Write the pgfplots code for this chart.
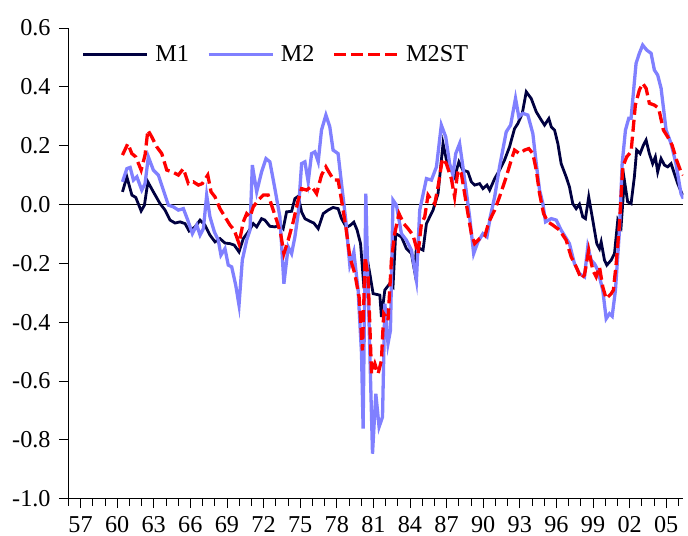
\documentclass[border=0pt]{standalone}
\usepackage{fontspec}
\setmainfont{Liberation Serif}
\usepackage{pgfplots}
\pgfplotsset{compat=1.18}
\definecolor{mone}{RGB}{0,0,64}
\definecolor{mtwo}{RGB}{128,128,255}
\definecolor{mst}{RGB}{255,0,0}
\newcommand{\bigf}{\fontsize{24.3}{28}\selectfont}
\begin{document}
\bigf
\begin{tikzpicture}
\begin{axis}[name=ax, scale only axis, width=615bp, height=470.7bp,
 xmin=1956, xmax=2006.4, ymin=-1, ymax=0.6,
 axis lines=left, axis line style={-, line width=0.8bp, black},
 xtick={1957,1960,1963,1966,1969,1972,1975,1978,1981,1984,1987,1990,1993,1996,1999,2002,2005},
 xticklabels={57,60,63,66,69,72,75,78,81,84,87,90,93,96,99,02,05},
 minor xtick={1956,1957,...,2006},
 ytick={-1,-0.8,-0.6,-0.4,-0.2,0,0.2,0.4,0.6},
 yticklabels={-1.0,-0.8,-0.6,-0.4,-0.2,0.0,0.2,0.4,0.6},
 tick align=outside, major tick length=9.5bp, minor tick length=7bp,
 tick style={black, line width=0.8bp},
 every tick label/.append style={font=\bigf},
 xticklabel style={inner sep=1bp, yshift=-7bp},
 legend columns=3,
 legend image code/.code={\draw[#1] (0bp,0bp) -- (64bp,0bp);},
 legend style={draw=none, fill=none, font=\bigf, at={(0.022,0.943)}, anchor=west, inner sep=0pt,
   nodes={inner sep=4bp},
   /tikz/every odd column/.append style={column sep=2.5bp},
   /tikz/every even column/.append style={column sep=14bp}},
]
\addplot[black, line width=0.8bp, forget plot] coordinates {(1956,0) (2006.4,0)};
\addplot[mone, line width=2.8bp] coordinates {
(1960.44,0.043)(1960.80,0.094)(1961.21,0.032)(1961.53,0.024)(1961.97,-0.022)(1962.24,-0.002)(1962.52,0.077)(1962.97,0.043)(1963.52,0.003)(1963.93,-0.019)(1964.34,-0.053)(1964.75,-0.063)(1965.16,-0.059)(1965.57,-0.065)(1965.90,-0.090)(1966.39,-0.076)(1966.80,-0.053)(1967.20,-0.070)(1967.61,-0.104)(1968.02,-0.127)(1968.43,-0.116)(1968.84,-0.131)(1969.25,-0.133)(1969.60,-0.138)(1969.99,-0.161)(1970.34,-0.116)(1970.75,-0.093)(1971.16,-0.065)(1971.44,-0.076)(1971.84,-0.048)(1972.11,-0.053)(1972.52,-0.074)(1972.93,-0.076)(1973.34,-0.070)(1973.61,-0.082)(1973.89,-0.025)(1974.30,-0.023)(1974.57,0.020)(1974.84,0.028)(1975.12,-0.025)(1975.39,-0.048)(1975.80,-0.057)(1976.12,-0.063)(1976.48,-0.082)(1976.89,-0.031)(1977.29,-0.019)(1977.70,-0.010)(1978.11,-0.014)(1978.39,-0.048)(1978.80,-0.078)(1979.13,-0.070)(1979.40,-0.060)(1979.67,-0.087)(1979.95,-0.133)(1980.16,-0.246)(1980.44,-0.172)(1980.71,-0.235)(1980.98,-0.303)(1981.53,-0.308)(1981.66,-0.382)(1981.94,-0.291)(1982.34,-0.269)(1982.61,-0.280)(1982.83,-0.099)(1983.30,-0.110)(1983.71,-0.150)(1984.12,-0.167)(1984.39,-0.229)(1984.53,-0.144)(1985.07,-0.155)(1985.35,-0.065)(1985.89,-0.019)(1986.30,0.037)(1986.71,0.207)(1987.11,0.128)(1987.39,0.117)(1987.66,0.094)(1988.01,0.145)(1988.34,0.117)(1988.75,0.111)(1989.03,0.077)(1989.30,0.066)(1989.71,0.071)(1989.98,0.054)(1990.31,0.066)(1990.53,0.049)(1990.94,0.088)(1991.34,0.117)(1991.75,0.151)(1992.16,0.196)(1992.57,0.258)(1992.84,0.275)(1993.20,0.309)(1993.53,0.383)(1993.94,0.360)(1994.35,0.315)(1994.76,0.287)(1995.03,0.270)(1995.38,0.292)(1995.58,0.264)(1995.85,0.253)(1996.12,0.207)(1996.39,0.139)(1996.80,0.094)(1997.07,0.060)(1997.34,0.003)(1997.62,-0.014)(1997.89,0.001)(1998.16,-0.042)(1998.38,-0.048)(1998.65,0.026)(1998.98,-0.053)(1999.31,-0.133)(1999.53,-0.150)(1999.67,-0.127)(1999.94,-0.189)(2000.13,-0.206)(2000.49,-0.189)(2000.76,-0.167)(2001.03,-0.053)(2001.30,-0.076)(2001.57,0.083)(2001.84,0.009)(2002.12,0.003)(2002.39,0.094)(2002.58,0.185)(2002.86,0.173)(2003.13,0.202)(2003.35,0.219)(2003.62,0.173)(2003.89,0.139)(2004.11,0.162)(2004.30,0.111)(2004.58,0.156)(2004.85,0.134)(2005.12,0.128)(2005.40,0.139)(2005.67,0.105)(2005.94,0.071)(2006.34,0.032)
};
\addlegendentry{M1}
\addplot[mtwo, line width=3.3bp] coordinates {
(1960.44,0.077)(1960.80,0.122)(1961.07,0.126)(1961.34,0.083)(1961.62,0.094)(1962.02,0.049)(1962.29,0.071)(1962.56,0.162)(1962.97,0.117)(1963.38,0.100)(1963.79,0.049)(1964.20,-0.002)(1964.61,-0.008)(1965.02,-0.019)(1965.43,-0.014)(1965.79,-0.053)(1966.17,-0.099)(1966.53,-0.070)(1966.80,-0.104)(1967.07,-0.082)(1967.34,0.032)(1967.61,-0.042)(1967.97,-0.093)(1968.29,-0.121)(1968.51,-0.172)(1968.84,-0.150)(1969.11,-0.206)(1969.39,-0.212)(1969.72,-0.274)(1969.99,-0.342)(1970.26,-0.189)(1970.62,-0.121)(1970.89,-0.087)(1971.08,0.134)(1971.44,0.043)(1971.84,0.111)(1972.20,0.156)(1972.52,0.145)(1972.93,0.054)(1973.34,-0.042)(1973.67,-0.269)(1974.02,-0.144)(1974.30,-0.167)(1974.57,-0.110)(1974.84,-0.031)(1975.12,0.139)(1975.39,0.145)(1975.66,0.077)(1975.94,0.173)(1976.21,0.179)(1976.48,0.145)(1976.75,0.253)(1977.11,0.304)(1977.43,0.264)(1977.70,0.185)(1978.11,0.173)(1978.39,0.071)(1978.74,-0.053)(1979.07,-0.206)(1979.40,-0.161)(1979.75,-0.291)(1980.03,-0.507)(1980.16,-0.762)(1980.38,0.037)(1980.57,-0.280)(1980.93,-0.847)(1981.20,-0.643)(1981.47,-0.756)(1981.75,-0.722)(1981.94,-0.337)(1982.20,-0.473)(1982.40,-0.428)(1982.61,0.015)(1982.89,-0.002)(1983.30,-0.099)(1983.71,-0.121)(1984.12,-0.155)(1984.53,-0.257)(1984.80,-0.019)(1985.35,0.088)(1985.76,0.083)(1986.17,0.128)(1986.57,0.270)(1986.93,0.230)(1987.25,0.139)(1987.52,0.100)(1987.75,0.173)(1988.07,0.207)(1988.34,0.128)(1988.62,0.043)(1988.89,-0.042)(1989.22,-0.167)(1989.57,-0.127)(1989.98,-0.099)(1990.31,-0.110)(1990.58,-0.042)(1990.94,0.026)(1991.34,0.128)(1991.89,0.247)(1992.25,0.270)(1992.65,0.361)(1992.92,0.298)(1993.25,0.310)(1993.66,0.304)(1994.07,0.241)(1994.35,0.139)(1994.62,0.049)(1994.89,0.003)(1995.11,-0.059)(1995.58,-0.048)(1995.99,-0.053)(1996.39,-0.087)(1997.07,-0.133)(1997.48,-0.201)(1997.89,-0.235)(1998.30,-0.246)(1998.57,-0.144)(1998.85,-0.189)(1999.12,-0.201)(1999.39,-0.223)(1999.80,-0.291)(2000.08,-0.388)(2000.35,-0.371)(2000.57,-0.380)(2000.84,-0.291)(2001.17,-0.087)(2001.39,0.139)(2001.66,0.253)(2001.93,0.293)(2002.12,0.293)(2002.53,0.480)(2002.80,0.514)(2003.07,0.542)(2003.40,0.525)(2003.76,0.514)(2004.03,0.457)(2004.30,0.440)(2004.58,0.395)(2004.99,0.253)(2005.40,0.207)(2005.80,0.139)(2006.21,0.037)(2006.40,0.020)
};
\addlegendentry{M2}
\addplot[mst, line width=3.3bp, dash pattern=on 12bp off 5bp] coordinates {
(1960.44,0.168)(1960.88,0.207)(1961.21,0.173)(1961.53,0.162)(1961.97,0.117)(1962.29,0.168)(1962.52,0.253)(1962.84,0.230)(1963.25,0.196)(1963.66,0.173)(1964.07,0.117)(1964.53,0.111)(1965.02,0.100)(1965.43,0.122)(1965.84,0.071)(1966.25,0.077)(1966.66,0.066)(1966.98,0.071)(1967.43,0.100)(1967.70,0.043)(1968.02,0.026)(1968.43,-0.014)(1968.84,-0.042)(1969.25,-0.070)(1969.60,-0.087)(1969.99,-0.133)(1970.34,-0.059)(1970.62,-0.031)(1970.89,-0.042)(1971.16,-0.008)(1971.57,0.015)(1971.98,0.032)(1972.38,0.032)(1972.66,-0.002)(1973.07,-0.053)(1973.40,-0.099)(1973.67,-0.167)(1974.02,-0.121)(1974.43,-0.059)(1974.84,0.015)(1975.12,0.054)(1975.53,0.049)(1975.94,0.062)(1976.35,0.037)(1976.75,0.100)(1977.11,0.128)(1977.43,0.105)(1977.76,0.083)(1978.11,0.083)(1978.39,0.015)(1978.74,-0.076)(1979.07,-0.178)(1979.48,-0.235)(1979.83,-0.314)(1980.11,-0.496)(1980.32,-0.178)(1980.57,-0.246)(1980.85,-0.575)(1981.12,-0.541)(1981.39,-0.575)(1981.66,-0.530)(1981.85,-0.371)(1982.20,-0.394)(1982.48,-0.189)(1982.75,-0.099)(1983.10,-0.031)(1983.49,-0.065)(1983.84,-0.082)(1984.25,-0.104)(1984.66,-0.167)(1984.94,-0.065)(1985.21,-0.042)(1985.48,0.032)(1985.76,0.015)(1986.03,0.003)(1986.30,0.060)(1986.66,0.156)(1986.98,0.139)(1987.39,0.088)(1987.66,0.026)(1987.93,0.117)(1988.21,0.105)(1988.48,0.037)(1988.75,-0.031)(1989.03,-0.099)(1989.30,-0.133)(1989.71,-0.116)(1990.12,-0.110)(1990.47,-0.059)(1990.94,-0.019)(1991.34,0.026)(1991.89,0.094)(1992.30,0.151)(1992.57,0.185)(1992.98,0.173)(1993.39,0.185)(1993.74,0.190)(1994.07,0.173)(1994.35,0.117)(1994.62,0.037)(1994.95,-0.031)(1995.30,-0.059)(1995.71,-0.070)(1996.26,-0.087)(1996.80,-0.121)(1997.21,-0.178)(1997.62,-0.212)(1998.03,-0.252)(1998.30,-0.240)(1998.65,-0.155)(1998.98,-0.223)(1999.26,-0.246)(1999.53,-0.212)(1999.80,-0.280)(2000.08,-0.320)(2000.49,-0.303)(2000.67,-0.291)(2000.90,-0.201)(2001.17,-0.065)(2001.44,0.128)(2001.76,0.162)(2002.12,0.179)(2002.47,0.338)(2002.80,0.389)(2003.07,0.412)(2003.35,0.395)(2003.62,0.344)(2004.03,0.338)(2004.38,0.327)(2004.77,0.253)(2005.12,0.230)(2005.48,0.202)(2005.85,0.151)(2006.21,0.111)(2006.40,0.100)
};
\addlegendentry{M2ST}
\end{axis}
\pgfresetboundingbox
\path[use as bounding box] ([shift={(-68.3bp,-37.3bp)}]ax.south west) rectangle ++(688bp,536bp);
\end{tikzpicture}
\end{document}
